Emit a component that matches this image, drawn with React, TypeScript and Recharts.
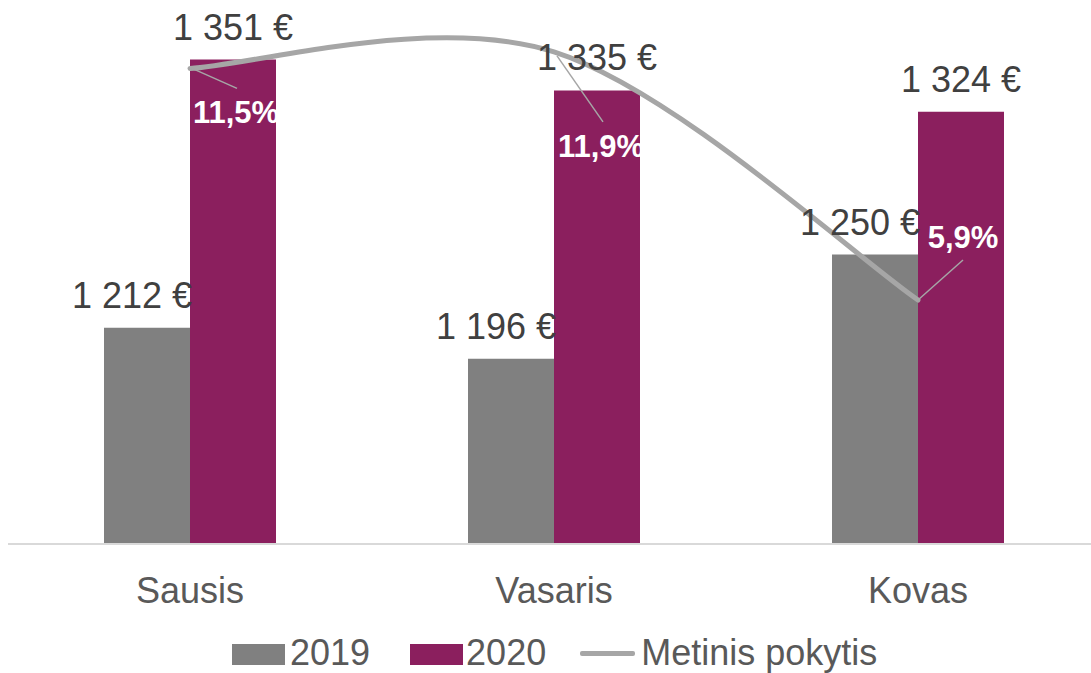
import React from 'react';
import { ComposedChart, Bar, Line, XAxis, YAxis, Legend, LabelList } from 'recharts';

const categories = ['Sausis', 'Vasaris', 'Kovas'];
const values2019 = [1212, 1196, 1250];
const values2020 = [1351, 1335, 1324];
const yearlyChange = [11.5, 11.9, 5.9];
const seriesNames = ['2019', '2020', 'Metinis pokytis'];

const data = categories.map((c, i) => ({
  month: c,
  y2019: values2019[i],
  y2020: values2020[i],
  change: yearlyChange[i],
}));

const COLOR_2019 = '#808080';
const COLOR_2020 = '#8B1F5E';
const COLOR_LINE = '#A6A6A6';
const FONT = '"Liberation Sans", Arial, sans-serif';

// manual placement of the percentage labels (relative to each line point):
// [leaderStartDx, leaderStartDy, leaderEndDx, leaderEndDy, textDx, textBaselineDy]
const changeLabelOffsets = [
  [2, 0, 47, 20, 46, 55],
  [3, 4, 49, 70, 47, 105],
  [0, 0, 45, -40, 45, -52],
];

// Excel-like smoothed line (Catmull-Rom style bezier, 1/6 tension)
function excelCurve(context: any) {
  let pts: number[][] = [];
  return {
    areaStart() {},
    areaEnd() {},
    lineStart() {
      pts = [];
    },
    point(x: number, y: number) {
      pts.push([+x, +y]);
    },
    lineEnd() {
      if (!pts.length) return;
      context.moveTo(pts[0][0], pts[0][1]);
      for (let i = 0; i < pts.length - 1; i++) {
        const p0 = pts[i - 1] || pts[i];
        const p1 = pts[i];
        const p2 = pts[i + 1];
        const p3 = pts[i + 2] || pts[i + 1];
        context.bezierCurveTo(
          p1[0] + (p2[0] - p0[0]) / 6,
          p1[1] + (p2[1] - p0[1]) / 6,
          p2[0] - (p3[0] - p1[0]) / 6,
          p2[1] - (p3[1] - p1[1]) / 6,
          p2[0],
          p2[1]
        );
      }
    },
  };
}

const fmtEuro = (v: number) => String(v).replace(/\B(?=(\d{3})+(?!\d))/g, ' ') + ' €';
const fmtPct = (v: number) => v.toFixed(1).replace('.', ',') + '%';

const getBox = (p: any) => {
  const vb = p.viewBox || {};
  return {
    x: p.x ?? vb.x,
    y: p.y ?? vb.y,
    width: p.width ?? vb.width ?? 0,
    height: p.height ?? vb.height ?? 0,
  };
};

const Label2019 = (p: any) => {
  const b = getBox(p);
  return (
    <text x={b.x + b.width + 2} y={b.y - 20} textAnchor="end" fill="#404040" fontSize={36} fontFamily={FONT}>
      {fmtEuro(p.value)}
    </text>
  );
};

const Label2020 = (p: any) => {
  const b = getBox(p);
  return (
    <text x={b.x + b.width / 2} y={b.y - 20} textAnchor="middle" fill="#404040" fontSize={36} fontFamily={FONT}>
      {fmtEuro(p.value)}
    </text>
  );
};

const ChangeLabel = (p: any) => {
  const b = getBox(p);
  const o = changeLabelOffsets[p.index] || [0, 0, 0, 0, 0, 0];
  return (
    <g>
      <line x1={b.x + o[0]} y1={b.y + o[1]} x2={b.x + o[2]} y2={b.y + o[3]} stroke={COLOR_LINE} strokeWidth={1.5} />
      <text x={b.x + o[4]} y={b.y + o[5]} textAnchor="middle" fill="#FFFFFF" fontSize={31} fontWeight="bold" fontFamily={FONT}>
        {fmtPct(p.value)}
      </text>
    </g>
  );
};

const LegendContent = () => (
  <div
    style={{
      display: 'flex',
      alignItems: 'flex-start',
      height: 50,
      boxSizing: 'border-box',
      paddingLeft: 232,
      paddingTop: 12,
      fontFamily: FONT,
      fontSize: 36,
      lineHeight: '36px',
      color: '#595959',
      whiteSpace: 'nowrap',
    }}
  >
    <span style={{ display: 'inline-block', width: 53, height: 21, marginTop: 9, background: COLOR_2019, marginRight: 5 }} />
    <span style={{ marginRight: 40 }}>{seriesNames[0]}</span>
    <span style={{ display: 'inline-block', width: 53, height: 21, marginTop: 9, background: COLOR_2020, marginRight: 3 }} />
    <span style={{ marginRight: 34 }}>{seriesNames[1]}</span>
    <span style={{ display: 'inline-block', width: 55, height: 5, marginTop: 16, background: COLOR_LINE, borderRadius: 2, marginRight: 6 }} />
    <span>{seriesNames[2]}</span>
  </div>
);

export default function App() {
  return (
    <div
      style={{
        position: 'fixed',
        left: 0,
        top: 0,
        width: 1091,
        height: 673,
        overflow: 'hidden',
        background: '#FFFFFF',
      }}
    >
      <div style={{ position: 'absolute', left: 0, top: -35 }}>
        <ComposedChart
          width={1100}
          height={708}
          data={data}
          margin={{ top: 0, right: 0, left: 8, bottom: 0 }}
          barGap={0}
        >
          <XAxis
            dataKey="month"
            height={79}
            tickLine={false}
            tickSize={0}
            tickMargin={33}
            axisLine={{ stroke: '#D9D9D9', strokeWidth: 2 }}
            tick={{ fill: '#595959', fontSize: 36, fontFamily: FONT }}
            interval={0}
          />
          <YAxis yAxisId="left" hide domain={[1100, 1400]} />
          <YAxis yAxisId="right" hide orientation="right" domain={[0, 14]} />
          <Legend verticalAlign="bottom" content={LegendContent} wrapperStyle={{ left: 0, width: 1091, bottom: 0 }} />
          <Bar yAxisId="left" dataKey="y2019" name={seriesNames[0]} fill={COLOR_2019} barSize={86} isAnimationActive={false}>
            <LabelList dataKey="y2019" content={Label2019} />
          </Bar>
          <Bar yAxisId="left" dataKey="y2020" name={seriesNames[1]} fill={COLOR_2020} barSize={86} isAnimationActive={false}>
            <LabelList dataKey="y2020" content={Label2020} />
          </Bar>
          <Line
            yAxisId="right"
            dataKey="change"
            name={seriesNames[2]}
            type={excelCurve as any}
            stroke={COLOR_LINE}
            strokeWidth={5}
            strokeLinecap="round"
            dot={false}
            activeDot={false}
            isAnimationActive={false}
          >
            <LabelList dataKey="change" content={ChangeLabel} />
          </Line>
        </ComposedChart>
      </div>
    </div>
  );
}
